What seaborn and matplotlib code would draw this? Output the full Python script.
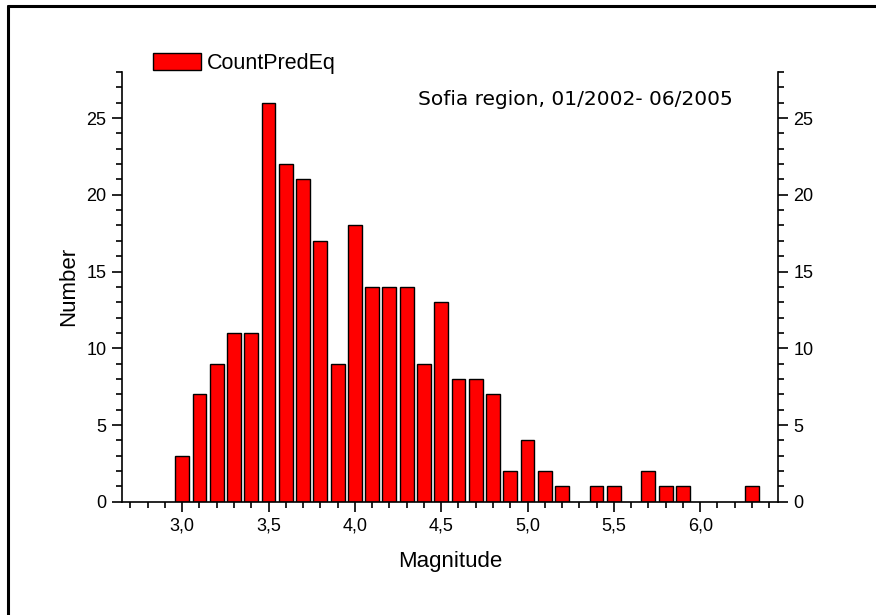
import matplotlib
matplotlib.use("Agg")
import matplotlib.pyplot as plt
import matplotlib.ticker as mticker
from matplotlib.lines import Line2D
import seaborn as sns
import pandas as pd

magnitude = [3.0, 3.1, 3.2, 3.3, 3.4, 3.5, 3.6, 3.7, 3.8, 3.9,
             4.0, 4.1, 4.2, 4.3, 4.4, 4.5, 4.6, 4.7, 4.8, 4.9,
             5.0, 5.1, 5.2, 5.4, 5.5, 5.7, 5.8, 5.9, 6.3]
count = [3, 7, 9, 11, 11, 26, 22, 21, 17, 9,
         18, 14, 14, 14, 9, 13, 8, 8, 7, 2,
         4, 2, 1, 1, 1, 2, 1, 1, 1]
x_ticks = [3.0, 3.5, 4.0, 4.5, 5.0, 5.5, 6.0]
y_ticks = [0, 5, 10, 15, 20, 25]

df = pd.DataFrame({'Magnitude': magnitude, 'Number': count})

sns.set_style('ticks')
plt.rcParams['font.family'] = ['Liberation Sans', 'DejaVu Sans']
plt.rcParams['text.color'] = 'black'
plt.rcParams['axes.labelcolor'] = 'black'
plt.rcParams['xtick.color'] = 'black'
plt.rcParams['ytick.color'] = 'black'
plt.rcParams['axes.edgecolor'] = 'black'

fig = plt.figure(figsize=(8.76, 6.15), dpi=100)
ax = fig.add_axes([0.139, 0.184, 0.749, 0.699])

sns.barplot(data=df, x='Magnitude', y='Number', native_scale=True, color='#ff0000',
            saturation=1, edgecolor='black', linewidth=1, label='CountPredEq', ax=ax)

ax.set_xlim(2.65, 6.45)
ax.set_ylim(0, 28)
ax.set_xticks(x_ticks)
ax.set_xticks([round(2.7 + 0.1 * i, 1) for i in range(38)], minor=True)
ax.set_yticks(y_ticks)
ax.yaxis.set_minor_locator(mticker.MultipleLocator(1))
ax.xaxis.set_major_formatter(mticker.FuncFormatter(lambda v, p: f'{v:.1f}'.replace('.', ',')))

ax.spines['top'].set_visible(False)
for s in ['left', 'right', 'bottom']:
    ax.spines[s].set_linewidth(1.2)
ax.tick_params(which='major', length=7, width=1.2, labelsize=13, direction='out', pad=4)
ax.tick_params(which='minor', length=4, width=1.2, direction='out')
ax.tick_params(axis='y', which='both', right=True, labelright=True)

ax.set_xlabel('Magnitude', fontsize=16, labelpad=12)
ax.set_ylabel('Number', fontsize=16, labelpad=5)

ax.text(0.931, 0.937, 'Sofia region, 01/2002- 06/2005', transform=ax.transAxes,
        ha='right', va='center', fontsize=14.5, family='DejaVu Sans')

ax.legend(loc='lower left', bbox_to_anchor=(0.045, 0.99), frameon=False, fontsize=15.5,
          handlelength=2.2, handleheight=0.85, borderaxespad=0, handletextpad=0.3,
          borderpad=0.1)

# marco exterior (solo izquierda y arriba)
fig.add_artist(Line2D([0.009, 0.009], [0, 0.991], transform=fig.transFigure, color='black', lw=2.2))
fig.add_artist(Line2D([0.009, 1.0], [0.991, 0.991], transform=fig.transFigure, color='black', lw=2.2))

fig.savefig('out.png', dpi=100)
